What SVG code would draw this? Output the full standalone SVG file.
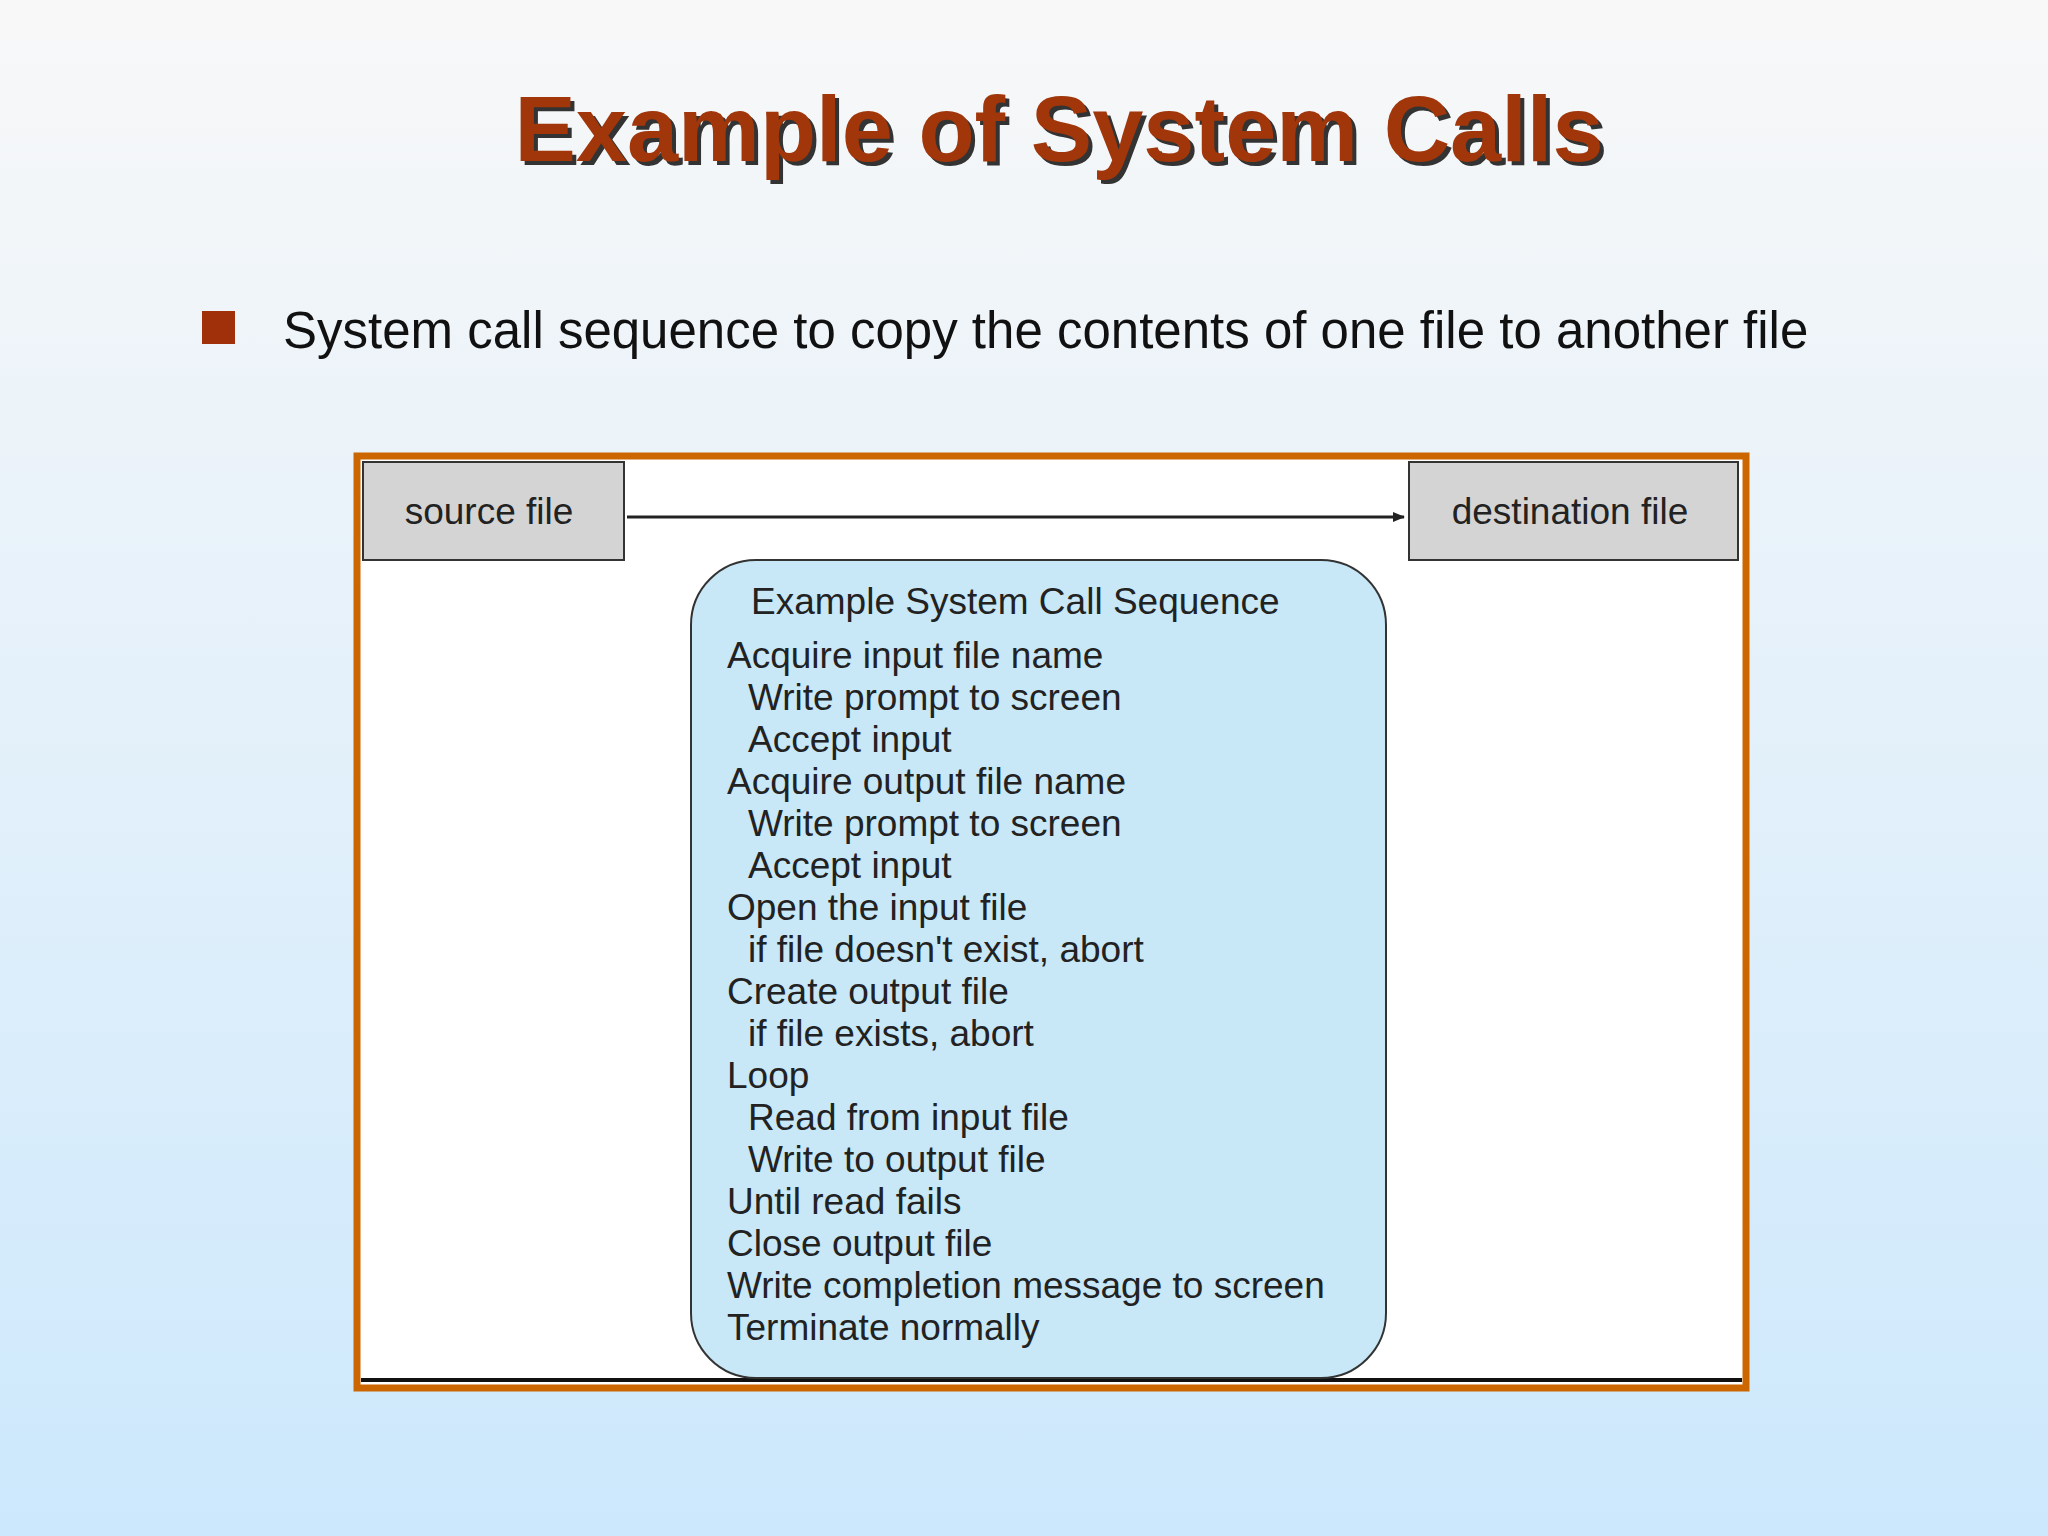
<svg xmlns="http://www.w3.org/2000/svg" width="2048" height="1536" viewBox="0 0 2048 1536">
<defs>
<linearGradient id="bg" x1="0" y1="0" x2="0" y2="1"><stop offset="0" stop-color="#f8f8f8"/><stop offset="1" stop-color="#cce8fc"/></linearGradient>
<marker id="ah" markerWidth="12" markerHeight="10" refX="11" refY="5" orient="auto" markerUnits="userSpaceOnUse" viewBox="0 0 12 10"><path d="M0,0 L12,5 L0,10 z" fill="#222"/></marker>
</defs>
<style>
.t{font-family:"Liberation Sans",Arial,sans-serif;fill:#222;font-size:37px}
.box{fill:#d4d4d4;stroke:#333;stroke-width:2}
</style>
<rect width="2048" height="1536" fill="url(#bg)"/>
<g id="title" font-family="Liberation Sans,Arial,sans-serif" font-weight="bold" font-size="92" text-anchor="middle">
<text x="1063" y="165" fill="#333">Example of System Calls</text>
<text x="1059" y="161" fill="#a0360a">Example of System Calls</text>
</g>
<g id="bullet">
<rect x="202" y="311" width="33" height="33" fill="#a0300a"/>
<text x="283" y="348" font-family="Liberation Sans,Arial,sans-serif" font-size="51" fill="#111">System call sequence to copy the contents of one file to another file</text>
</g>
<rect x="357" y="456" width="1389" height="932" fill="#fff" stroke="#cc6600" stroke-width="7"/>
<line x1="361" y1="1380" x2="1742" y2="1380" stroke="#111" stroke-width="4"/>
<g id="source"><rect class="box" x="363" y="462" width="261" height="98"/><text class="t" x="489" y="524" text-anchor="middle">source file</text></g>
<g id="destination"><rect class="box" x="1409" y="462" width="329" height="98"/><text class="t" x="1570" y="524" text-anchor="middle">destination  file</text></g>
<g id="connectors"><line x1="627" y1="517" x2="1404" y2="517" stroke="#222" stroke-width="3" marker-end="url(#ah)"/></g>
<g id="sequence">
<rect x="691" y="560" width="695" height="818" rx="65" fill="#c8e8f8" stroke="#333" stroke-width="2"/>
<text class="t" x="751" y="614">Example System Call Sequence</text>
<text class="t" x="727" y="668">Acquire input file name</text>
<text class="t" x="748" y="710">Write prompt to screen</text>
<text class="t" x="748" y="752">Accept input</text>
<text class="t" x="727" y="794">Acquire output file name</text>
<text class="t" x="748" y="836">Write prompt to screen</text>
<text class="t" x="748" y="878">Accept input</text>
<text class="t" x="727" y="920">Open the input file</text>
<text class="t" x="748" y="962">if file doesn't exist, abort</text>
<text class="t" x="727" y="1004">Create output file</text>
<text class="t" x="748" y="1046">if file exists, abort</text>
<text class="t" x="727" y="1088">Loop</text>
<text class="t" x="748" y="1130">Read from input file</text>
<text class="t" x="748" y="1172">Write to output file</text>
<text class="t" x="727" y="1214">Until read fails</text>
<text class="t" x="727" y="1256">Close output file</text>
<text class="t" x="727" y="1298">Write completion message to screen</text>
<text class="t" x="727" y="1340">Terminate normally</text>
</g>
</svg>
